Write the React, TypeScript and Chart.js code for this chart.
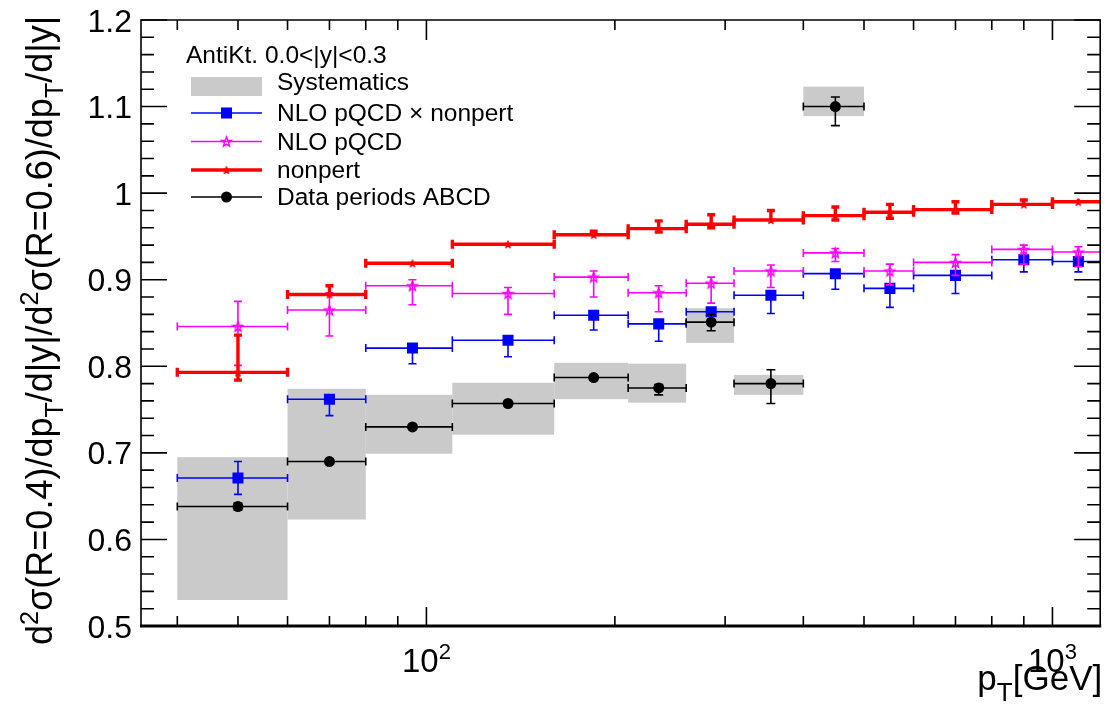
import React, { useEffect, useRef } from "react";
import { Chart, registerables } from "chart.js";

Chart.register(...registerables);

const FONT = '"Liberation Sans", Arial, Helvetica, sans-serif';

// pT bins [GeV]
const binLow = [40, 60, 80, 110, 160, 210, 260, 310, 400, 500, 600, 800, 1000];
const binHigh = [60, 80, 110, 160, 210, 260, 310, 400, 500, 600, 800, 1000, 1200];
const binCenter = [50, 70, 95, 135, 185, 235, 285, 355, 450, 550, 700, 900, 1100];

// Data periods ABCD (first 9 bins)
const dataVal = [0.638, 0.690, 0.730, 0.757, 0.787, 0.775, 0.851, 0.780, 1.100];
const dataLo = [0.634, 0.687, 0.727, 0.754, 0.784, 0.767, 0.841, 0.757, 1.078];
const dataHi = [0.642, 0.693, 0.733, 0.760, 0.790, 0.779, 0.860, 0.796, 1.111];
// Systematics band on data
const systLo = [0.530, 0.623, 0.699, 0.721, 0.762, 0.758, 0.827, 0.767, 1.089];
const systHi = [0.695, 0.774, 0.767, 0.781, 0.804, 0.803, 0.867, 0.790, 1.123];

// NLO pQCD x nonpert
const nloNpVal = [0.671, 0.762, 0.821, 0.830, 0.859, 0.849, 0.863, 0.882, 0.907, 0.890, 0.905, 0.923, 0.921];
const nloNpLo = [0.652, 0.743, 0.803, 0.811, 0.842, 0.829, 0.848, 0.861, 0.889, 0.868, 0.884, 0.909, 0.909];
const nloNpHi = [0.690, 0.766, 0.825, 0.834, 0.863, 0.853, 0.867, 0.886, 0.911, 0.894, 0.909, 0.927, 0.925];

// NLO pQCD
const nloVal = [0.846, 0.865, 0.893, 0.884, 0.903, 0.885, 0.896, 0.910, 0.931, 0.910, 0.920, 0.935, 0.932];
const nloLo = [0.801, 0.835, 0.871, 0.860, 0.880, 0.863, 0.873, 0.891, 0.921, 0.894, 0.905, 0.918, 0.915];
const nloHi = [0.875, 0.885, 0.900, 0.891, 0.910, 0.893, 0.903, 0.917, 0.936, 0.918, 0.929, 0.940, 0.938];

// nonpert
const npVal = [0.793, 0.883, 0.919, 0.941, 0.952, 0.959, 0.964, 0.969, 0.974, 0.978, 0.981, 0.987, 0.990];
const npLo = [0.784, 0.880, 0.918, 0.940, 0.949, 0.955, 0.960, 0.966, 0.969, 0.971, 0.977, 0.985, 0.988];
const npHi = [0.836, 0.893, 0.921, 0.942, 0.956, 0.968, 0.975, 0.980, 0.984, 0.987, 0.990, 0.992, 0.993];

// axis ticks
const yMajorTicks = [0.5, 0.6, 0.7, 0.8, 0.9, 1.0, 1.1, 1.2];
const yTickLabels = ["0.5", "0.6", "0.7", "0.8", "0.9", "1", "1.1", "1.2"];
const xMajorTicks = [100, 1000];
const xMajorExp = ["2", "3"];
const xMinorTicks = [40, 50, 60, 70, 80, 90, 200, 300, 400, 500, 600, 700, 800, 900];

const legendHeader = "AntiKt. 0.0<|y|<0.3";

const C_BLUE = "#0000ff";
const C_MAG = "#ff00ff";
const C_RED = "#ff0000";
const C_BLACK = "#000000";
const C_GRAY = "#cacaca";

function makeStar(size: number, color: string, lw: number, filled: boolean) {
  const c = document.createElement("canvas");
  c.width = size;
  c.height = size;
  const ctx = c.getContext("2d")!;
  const cx = size / 2, cy = size / 2 + 0.5;
  const R = size / 2 - lw;
  const r = R * 0.42;
  ctx.beginPath();
  for (let i = 0; i < 10; i++) {
    const a = -Math.PI / 2 + (i * Math.PI) / 5;
    const rr = i % 2 === 0 ? R : r;
    ctx.lineTo(cx + rr * Math.cos(a), cy + rr * Math.sin(a));
  }
  ctx.closePath();
  if (filled) {
    ctx.fillStyle = color;
    ctx.fill();
  }
  ctx.strokeStyle = color;
  ctx.lineWidth = lw;
  ctx.stroke();
  return c;
}

type Seg = { t: string; m: "n" | "sup" | "sub" };

function drawRich(ctx: CanvasRenderingContext2D, segs: Seg[], x: number, y: number, fs: number, sfs: number, doDraw = true) {
  let cx = x;
  for (const s of segs) {
    const size = s.m === "n" ? fs : sfs;
    ctx.font = `${size}px ${FONT}`;
    const dy = s.m === "sup" ? -fs * 0.4 : s.m === "sub" ? fs * 0.3 : 0;
    if (doDraw) ctx.fillText(s.t, cx, y + dy);
    cx += ctx.measureText(s.t).width;
  }
  return cx - x;
}

const yTitle: Seg[] = [
  { t: "d", m: "n" }, { t: "2", m: "sup" }, { t: "σ(R=0.4)/dp", m: "n" }, { t: "T", m: "sub" },
  { t: "/d|y|/d", m: "n" }, { t: "2", m: "sup" }, { t: "σ(R=0.6)/dp", m: "n" }, { t: "T", m: "sub" },
  { t: "/d|y|", m: "n" },
];
const xTitle: Seg[] = [{ t: "p", m: "n" }, { t: "T", m: "sub" }, { t: "[GeV]", m: "n" }];

const rootPlugin = {
  id: "rootStyle",
  beforeDatasetDraw(chart: any, args: any) {
    const ds = chart.data.datasets[args.index];
    const ctx: CanvasRenderingContext2D = chart.ctx;
    const xs = chart.scales.x, ys = chart.scales.y;
    const a = chart.chartArea;
    ctx.save();
    ctx.beginPath();
    ctx.rect(a.left, a.top, a.right - a.left, a.bottom - a.top);
    ctx.clip();
    if (ds.isBox) {
      ctx.fillStyle = C_GRAY;
      ds.data.forEach((p: any) => {
        const x0 = xs.getPixelForValue(p.xl), x1 = xs.getPixelForValue(p.xh);
        const y0 = ys.getPixelForValue(p.yh), y1 = ys.getPixelForValue(p.yl);
        ctx.fillRect(x0, y0, x1 - x0, y1 - y0);
      });
    } else {
      ctx.strokeStyle = ds.errColor;
      ctx.lineWidth = ds.errWidth;
      ctx.lineCap = "butt";
      ds.data.forEach((p: any) => {
        const px = xs.getPixelForValue(p.x), py = ys.getPixelForValue(p.y);
        const x0 = xs.getPixelForValue(p.xl), x1 = xs.getPixelForValue(p.xh);
        const yl = ys.getPixelForValue(p.yl), yh = ys.getPixelForValue(p.yh);
        ctx.beginPath();
        ctx.moveTo(x0, py); ctx.lineTo(x1, py);
        ctx.moveTo(x0, py - ds.capX); ctx.lineTo(x0, py + ds.capX);
        ctx.moveTo(x1, py - ds.capX); ctx.lineTo(x1, py + ds.capX);
        ctx.moveTo(px, yl); ctx.lineTo(px, yh);
        if (Math.abs(yh - py) > 3) { ctx.moveTo(px - ds.capY, yh); ctx.lineTo(px + ds.capY, yh); }
        if (Math.abs(yl - py) > 3) { ctx.moveTo(px - ds.capY, yl); ctx.lineTo(px + ds.capY, yl); }
        ctx.stroke();
      });
    }
    ctx.restore();
  },
  afterDraw(chart: any) {
    const ctx: CanvasRenderingContext2D = chart.ctx;
    const xs = chart.scales.x, ys = chart.scales.y;
    const a = chart.chartArea;
    const opts = chart.options.plugins.rootStyle;
    ctx.save();
    ctx.strokeStyle = "#000";
    ctx.fillStyle = "#000";
    // frame
    ctx.lineWidth = 1.6;
    ctx.beginPath();
    ctx.moveTo(a.left, a.bottom); ctx.lineTo(a.left, a.top); ctx.lineTo(a.right, a.top); ctx.lineTo(a.right, a.bottom);
    ctx.stroke();
    ctx.lineWidth = 3;
    ctx.beginPath();
    ctx.moveTo(a.left - 1, a.bottom); ctx.lineTo(a.right + 1, a.bottom);
    ctx.stroke();
    // y ticks
    ctx.lineWidth = 1.6;
    ctx.beginPath();
    for (let k = 0; k <= 35; k++) {
      const v = 0.5 + k * 0.02;
      const py = ys.getPixelForValue(v);
      const len = k % 5 === 0 ? 26 : 13;
      ctx.moveTo(a.left, py); ctx.lineTo(a.left + len, py);
      ctx.moveTo(a.right, py); ctx.lineTo(a.right - len, py);
    }
    // x ticks
    xMinorTicks.forEach((v) => {
      const px = xs.getPixelForValue(v);
      ctx.moveTo(px, a.bottom); ctx.lineTo(px, a.bottom - 10);
      ctx.moveTo(px, a.top); ctx.lineTo(px, a.top + 10);
    });
    xMajorTicks.forEach((v) => {
      const px = xs.getPixelForValue(v);
      ctx.moveTo(px, a.bottom); ctx.lineTo(px, a.bottom - 19);
      ctx.moveTo(px, a.top); ctx.lineTo(px, a.top + 20);
    });
    ctx.stroke();
    // y tick labels
    ctx.font = `32px ${FONT}`;
    ctx.textAlign = "right";
    ctx.textBaseline = "alphabetic";
    yMajorTicks.forEach((v, i) => {
      const py = ys.getPixelForValue(v);
      ctx.fillText(yTickLabels[i], a.left - 9, py + 11.5);
    });
    // x tick labels 10^n
    ctx.textAlign = "left";
    xMajorTicks.forEach((v, i) => {
      const px = xs.getPixelForValue(v);
      const segs: Seg[] = [{ t: "10", m: "n" }, { t: xMajorExp[i], m: "sup" }];
      const w = drawRich(ctx, segs, 0, 0, 33, 22, false);
      drawRich(ctx, segs, px - w / 2, 672, 33, 22);
    });
    // x title
    {
      const w = drawRich(ctx, xTitle, 0, 0, 35, 26, false);
      drawRich(ctx, xTitle, a.right + 2 - w, 690, 35, 26);
    }
    // y title (rotated)
    {
      const fs = opts.yTitleSize;
      const w = drawRich(ctx, yTitle, 0, 0, fs, fs * 0.7, false);
      ctx.save();
      ctx.translate(52, 16 + w);
      ctx.rotate(-Math.PI / 2);
      drawRich(ctx, yTitle, 0, 0, fs, fs * 0.7);
      ctx.restore();
    }
    // legend
    ctx.font = `24.5px ${FONT}`;
    ctx.textAlign = "left";
    ctx.fillText(legendHeader, 186, 63);
    const sx0 = 191, sx1 = 262, smid = 226.5, tx = 277;
    // systematics entry
    ctx.fillStyle = C_GRAY;
    ctx.fillRect(sx0, 77, sx1 - sx0, 19);
    ctx.fillStyle = "#000";
    ctx.fillText(chart.data.datasets[4].label, tx, 90);
    const rows = [
      { ds: chart.data.datasets[3], y: 113 },
      { ds: chart.data.datasets[2], y: 141.5 },
      { ds: chart.data.datasets[1], y: 170 },
      { ds: chart.data.datasets[0], y: 197 },
    ];
    rows.forEach((r) => {
      const ds = r.ds;
      ctx.strokeStyle = ds.errColor;
      ctx.lineWidth = ds.errWidth;
      ctx.beginPath();
      ctx.moveTo(sx0, r.y); ctx.lineTo(sx1, r.y);
      ctx.stroke();
      const st = ds.pointStyle;
      if (typeof st === "object") {
        ctx.drawImage(st, smid - st.width / 2, r.y - st.height / 2);
      } else if (st === "rect") {
        const s = ds.pointRadius * Math.SQRT1_2;
        ctx.fillStyle = ds.backgroundColor;
        ctx.fillRect(smid - s, r.y - s, 2 * s, 2 * s);
      } else {
        ctx.fillStyle = ds.backgroundColor;
        ctx.beginPath();
        ctx.arc(smid, r.y, ds.pointRadius, 0, Math.PI * 2);
        ctx.fill();
      }
      ctx.fillStyle = "#000";
      ctx.fillText(ds.label, tx, r.y + 8);
    });
    ctx.restore();
  },
};

export default function App() {
  const ref = useRef<HTMLCanvasElement>(null);
  useEffect(() => {
    const canvas = ref.current!;
    const starOpen = makeStar(13, C_MAG, 1.4, false);
    const starRed = makeStar(10, C_RED, 1, true);
    const mk = (vals: number[], lo: number[], hi: number[]) =>
      vals.map((v, i) => ({ x: binCenter[i], y: v, xl: binLow[i], xh: binHigh[i], yl: lo[i], yh: hi[i] }));
    const boxes = systLo.map((v, i) => ({
      x: binCenter[i], y: (v + systHi[i]) / 2, xl: binLow[i], xh: binHigh[i], yl: v, yh: systHi[i],
    }));
    const chart = new Chart(canvas, {
      type: "scatter",
      data: {
        datasets: [
          {
            label: "Data periods ABCD", data: mk(dataVal, dataLo, dataHi),
            pointStyle: "circle", pointRadius: 5.5, backgroundColor: C_BLACK, borderColor: C_BLACK, borderWidth: 0,
            errColor: C_BLACK, errWidth: 1.6, capX: 4, capY: 4.5,
          },
          {
            label: "nonpert", data: mk(npVal, npLo, npHi),
            pointStyle: starRed, pointRadius: 5, backgroundColor: C_RED, borderColor: C_RED,
            errColor: C_RED, errWidth: 3.4, capX: 4.5, capY: 4,
          },
          {
            label: "NLO pQCD", data: mk(nloVal, nloLo, nloHi),
            pointStyle: starOpen, pointRadius: 6, backgroundColor: C_MAG, borderColor: C_MAG,
            errColor: C_MAG, errWidth: 1.6, capX: 4, capY: 4,
          },
          {
            label: "NLO pQCD × nonpert", data: mk(nloNpVal, nloNpLo, nloNpHi),
            pointStyle: "rect", pointRadius: 7.8, backgroundColor: C_BLUE, borderColor: C_BLUE, borderWidth: 0,
            errColor: C_BLUE, errWidth: 1.6, capX: 4, capY: 4,
          },
          {
            label: "Systematics", data: boxes, isBox: true, pointRadius: 0, backgroundColor: C_GRAY,
          },
        ] as any,
      },
      options: {
        animation: false,
        responsive: false,
        layout: { padding: { top: 20, right: 5, left: 0, bottom: 0 } },
        plugins: {
          legend: { display: false },
          tooltip: { enabled: false },
          rootStyle: { yTitleSize: 36 },
        } as any,
        scales: {
          x: {
            type: "logarithmic", min: 35, max: 1192,
            grid: { display: false }, border: { display: false }, ticks: { display: false },
            afterFit: (s: any) => { s.height = 83; },
          },
          y: {
            type: "linear", min: 0.5, max: 1.2,
            grid: { display: false }, border: { display: false }, ticks: { display: false },
            afterFit: (s: any) => { s.width = 141; },
          },
        },
      },
      plugins: [rootPlugin as any],
    });
    return () => chart.destroy();
  }, []);
  return (
    <div style={{ position: "absolute", left: 0, top: 0, width: 1108, height: 709, background: "#fff" }}>
      <canvas ref={ref} width={1108} height={709} style={{ display: "block", width: 1108, height: 709 }} />
    </div>
  );
}
